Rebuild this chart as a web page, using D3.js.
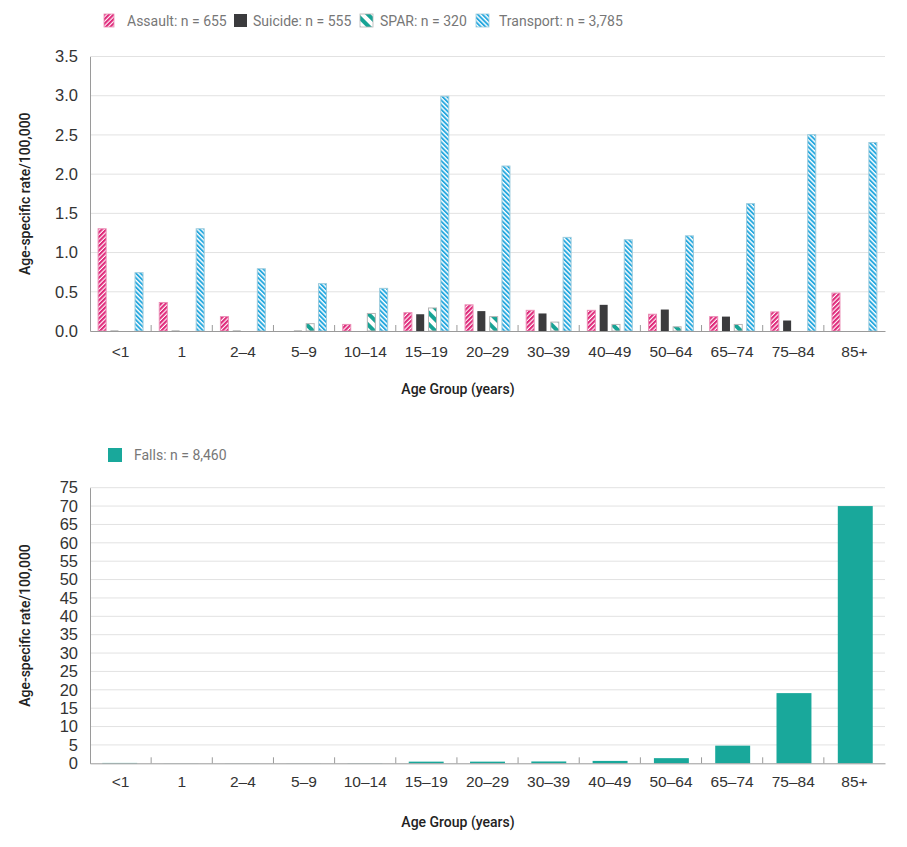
<!DOCTYPE html>
<html>
<head>
<meta charset="utf-8">
<script src="https://cdn.jsdelivr.net/npm/d3@7"></script>
<style>
  html, body { margin: 0; padding: 0; background: #fff; }
  svg { display: block; font-family: Roboto, "Noto Sans", sans-serif; }
</style>
</head>
<body>
<svg id="chart" width="907" height="847"></svg>
<script>
// ---------- DATA ----------
const ageGroups = ["<1", "1", "2–4", "5–9", "10–14", "15–19", "20–29", "30–39", "40–49", "50–64", "65–74", "75–84", "85+"];
const seriesNames = ["Assault", "Suicide", "SPAR", "Transport"];
const seriesLabels = ["Assault: n = 655", "Suicide: n = 555", "SPAR: n = 320", "Transport: n = 3,785"];
const assault   = [1.31, 0.37, 0.19, 0.00, 0.09, 0.24, 0.34, 0.27, 0.27, 0.22, 0.19, 0.25, 0.49];
const suicide   = [0.01, 0.01, 0.01, 0.01, 0.00, 0.22, 0.26, 0.23, 0.34, 0.28, 0.19, 0.14, 0.00];
const spar      = [0.00, 0.00, 0.00, 0.10, 0.23, 0.30, 0.19, 0.12, 0.09, 0.06, 0.09, 0.00, 0.00];
const transport = [0.75, 1.31, 0.80, 0.61, 0.55, 3.00, 2.11, 1.20, 1.17, 1.22, 1.63, 2.51, 2.41];
const topTicks = [0, 0.5, 1.0, 1.5, 2.0, 2.5, 3.0, 3.5];

const fallsLabel = "Falls: n = 8,460";
const falls = [0.10, 0.02, 0.02, 0.02, 0.04, 0.45, 0.45, 0.5, 0.65, 1.4, 4.8, 19.1, 70.0];
const bottomTicks = [0, 5, 10, 15, 20, 25, 30, 35, 40, 45, 50, 55, 60, 65, 70, 75];

const yTitle = "Age-specific rate/100,000";
const xTitle = "Age Group (years)";

// ---------- SETUP ----------
const svg = d3.select("#chart");
const defs = svg.append("defs");

function stripePattern(id, angle, period, stripeW, color) {
  const p = defs.append("pattern")
    .attr("id", id).attr("patternUnits", "userSpaceOnUse")
    .attr("width", period).attr("height", period)
    .attr("patternTransform", `rotate(${angle})`);
  p.append("rect").attr("width", period).attr("height", period).attr("fill", "#fff");
  p.append("rect").attr("width", stripeW).attr("height", period).attr("fill", color);
}
stripePattern("pAssault", 45, 3.2, 2.1, "#df2a7b");
stripePattern("pSpar", -45, 8, 4, "#17a395");
stripePattern("pTransport", -45, 3.3, 1.9, "#27a9df");

const fills = { Assault: "url(#pAssault)", Suicide: "#3b3b3d", SPAR: "url(#pSpar)", Transport: "url(#pTransport)" };
const strokes = { Assault: "#ea8db5", Suicide: "none", SPAR: "#b5b5b5", Transport: "#9ccbdc" };
const values = { Assault: assault, Suicide: suicide, SPAR: spar, Transport: transport };

const left = 90, right = 885;
const xCat = d3.scaleBand().domain(ageGroups).range([left, right]).padding(0);

function drawFrame(y, ticks, fmt, yTop, yBottom) {
  const g = svg.append("g");
  g.selectAll(".grid").data(ticks.filter(t => t > 0)).join("line")
    .attr("x1", left).attr("x2", right)
    .attr("y1", d => y(d)).attr("y2", d => y(d))
    .attr("stroke", "#e2e2e2").attr("stroke-width", 1);
  const ya = d3.axisLeft(y).tickValues(ticks).tickFormat(fmt).tickSize(0).tickPadding(12);
  const yg = svg.append("g").attr("transform", `translate(${left},0)`).call(ya);
  yg.select(".domain").attr("stroke", "#9a9a9a");
  yg.selectAll("text").attr("font-size", 16.5).attr("fill", "#333");
  svg.append("text")
    .attr("transform", `translate(25,${(yTop + yBottom) / 2}) rotate(-90)`)
    .attr("text-anchor", "middle").attr("dominant-baseline", "central")
    .attr("font-size", 14).attr("font-weight", 500).attr("fill", "#222")
    .text(yTitle);
  return g;
}

function drawXAxis(yBase, labelY, titleY) {
  const xa = d3.axisBottom(xCat).tickSize(0).tickPadding(0);
  const xg = svg.append("g").attr("transform", `translate(0,${yBase})`).call(xa);
  xg.select(".domain").attr("stroke", "#9a9a9a");
  xg.selectAll(".tick text").attr("y", labelY - yBase).attr("dy", "0.35em")
    .attr("font-size", 15.5).attr("fill", "#333");
  svg.append("g").selectAll("line").data(ageGroups.slice(1)).join("line")
    .attr("x1", d => xCat(d)).attr("x2", d => xCat(d))
    .attr("y1", yBase).attr("y2", yBase - 6)
    .attr("stroke", "#9a9a9a").attr("stroke-width", 1);
  svg.append("text")
    .attr("x", 458).attr("y", titleY).attr("dominant-baseline", "central")
    .attr("text-anchor", "middle").attr("font-size", 14).attr("font-weight", 500).attr("fill", "#222")
    .text(xTitle);
}

// ---------- TOP CHART ----------
const yTopScale = d3.scaleLinear().domain([0, 3.5]).range([331, 56.5]);
const gTop = drawFrame(yTopScale, topTicks, d3.format(".1f"), 56.5, 331);
const x1 = d3.scaleBand().domain(seriesNames).range([0, xCat.bandwidth()]).paddingInner(0.268).paddingOuter(0.62);

const groups = gTop.selectAll(".grp").data(ageGroups).join("g")
  .attr("transform", d => `translate(${xCat(d)},0)`);
groups.each(function (age, i) {
  const grp = d3.select(this);
  seriesNames.forEach(s => {
    const v = values[s][i];
    if (v <= 0) return;
    const y0 = yTopScale(0), yv = yTopScale(v);
    grp.append("rect")
      .attr("x", x1(s) + 0.5).attr("width", x1.bandwidth() - 1)
      .attr("y", yv + 0.5).attr("height", Math.max(1, y0 - yv - 0.5))
      .attr("fill", fills[s])
      .attr("stroke", v < 0.03 ? "none" : strokes[s]).attr("stroke-width", 1);
  });
});
drawXAxis(331, 352, 389);

// top legend
const legendX = [104, 234, 360, 476];
const legendTextX = [127, 253, 380, 499];
const lg = svg.append("g");
seriesNames.forEach((s, i) => {
  const w = s === "Assault" ? 10 : 13;
  lg.append("rect").attr("x", legendX[i]).attr("y", 14).attr("width", w).attr("height", 13)
    .attr("fill", fills[s]).attr("stroke", s === "Suicide" ? "none" : strokes[s]).attr("stroke-width", 0.8);
  lg.append("text").attr("x", legendTextX[i]).attr("y", 21).attr("dominant-baseline", "central")
    .attr("font-size", 14).attr("fill", "#777").text(seriesLabels[i]);
});

// ---------- BOTTOM CHART ----------
const yBot = d3.scaleLinear().domain([0, 75]).range([763.3, 487.7]);
const gBot = drawFrame(yBot, bottomTicks, d3.format("d"), 487.7, 763.3);
const xBar = d3.scaleBand().domain(ageGroups).range([left, right]).paddingInner(0.43).paddingOuter(0.2);
gBot.selectAll(".fall").data(ageGroups).join("rect")
  .attr("x", d => xBar(d)).attr("width", xBar.bandwidth())
  .attr("y", (d, i) => yBot(falls[i]))
  .attr("height", (d, i) => yBot(0) - yBot(falls[i]))
  .attr("fill", "#19a89b");
drawXAxis(763.3, 782, 822);

svg.append("rect").attr("x", 108).attr("y", 448).attr("width", 14).attr("height", 14).attr("fill", "#19a89b");
svg.append("text").attr("x", 134).attr("y", 455).attr("dominant-baseline", "central")
  .attr("font-size", 14).attr("fill", "#777").text(fallsLabel);
</script>
</body>
</html>
